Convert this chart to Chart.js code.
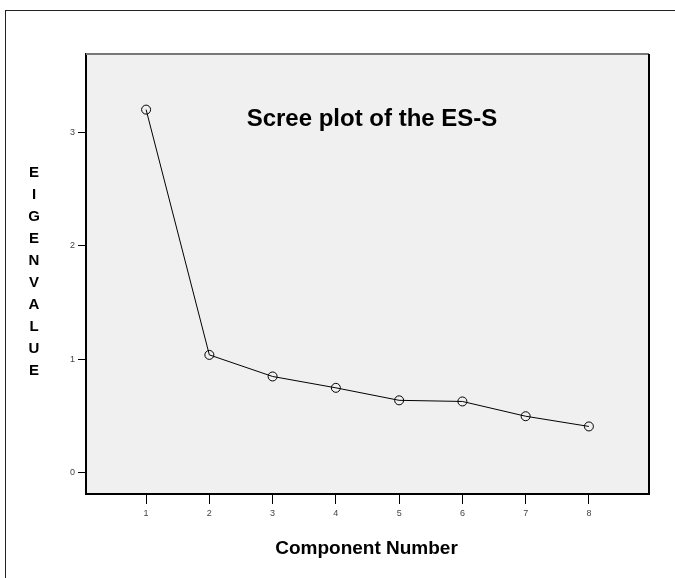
<!DOCTYPE html>
<html>
<head>
<meta charset="utf-8">
<script src="https://cdn.jsdelivr.net/npm/chart.js@4.4.0/dist/chart.umd.min.js"></script>
<style>
  html, body { margin: 0; padding: 0; background: #fff; }
  #wrap { width: 675px; height: 578px; }
</style>
</head>
<body>
<div id="wrap"><canvas id="scree" width="675" height="578"></canvas></div>
<script>
// component numbers and their eigenvalues
const components = [1, 2, 3, 4, 5, 6, 7, 8];
const eigenvalues = [3.2, 1.04, 0.85, 0.75, 0.64, 0.63, 0.5, 0.41];
const xTicks = [1, 2, 3, 4, 5, 6, 7, 8];
const yTicks = [0, 1, 2, 3];

const titleText = "Scree plot of the ES-S";
const yLabel = "EIGENVALUE";
const xLabel = "Component Number";

const decorations = {
  id: "decorations",
  beforeDraw(chart) {
    const c = chart.ctx;
    const a = chart.chartArea;
    c.save();
    // outer frame
    c.strokeStyle = "#222";
    c.lineWidth = 1;
    c.strokeRect(5.5, 10.5, 700, 600);
    // grey plot background
    c.fillStyle = "#f0f0f0";
    c.fillRect(a.left, a.top, a.right - a.left, a.bottom - a.top);
    c.restore();
  },
  afterDraw(chart) {
    const c = chart.ctx;
    const a = chart.chartArea;
    c.save();
    // top and right edges of the plot box
    c.lineWidth = 2;
    c.strokeStyle = "#777";
    c.beginPath();
    c.moveTo(a.left, a.top);
    c.lineTo(a.right, a.top);
    c.stroke();
    c.strokeStyle = "#000";
    c.beginPath();
    c.moveTo(a.right, a.top);
    c.lineTo(a.right, a.bottom);
    c.stroke();

    c.fillStyle = "#000";
    c.textAlign = "center";
    c.textBaseline = "middle";
    // title inside the plot
    c.font = "bold 24px 'Liberation Sans', Arial, sans-serif";
    c.fillText(titleText, a.left + (a.right - a.left) * 0.508, a.top + 65);
    // stacked y label
    c.font = "bold 15px 'Liberation Sans', Arial, sans-serif";
    for (let i = 0; i < yLabel.length; i++) {
      c.fillText(yLabel[i], 34, 173 + i * 22);
    }
    // x label
    c.font = "bold 19px 'Liberation Sans', Arial, sans-serif";
    c.fillText(xLabel, (a.left + a.right) / 2 - 1, 549);
    c.restore();
  },
};

const ctx = document.getElementById("scree").getContext("2d");

let screeChart = new Chart(ctx, {
  type: "line",
  data: {
    datasets: [
      {
        label: "Eigenvalue",
        data: components.map((x, i) => ({ x: x, y: eigenvalues[i] })),
        borderColor: "#000",
        borderWidth: 1,
        tension: 0,
        pointStyle: "circle",
        pointRadius: 4.5,
        pointBorderWidth: 1,
        pointBorderColor: "#000",
        pointBackgroundColor: "rgba(0,0,0,0)",
      },
    ],
  },
  options: {
    responsive: false,
    animation: false,
    layout: {
      padding: { left: 0, top: 54, right: 26, bottom: 0 },
    },
    plugins: {
      legend: { display: false },
      title: { display: false },
      tooltip: { enabled: false },
    },
    scales: {
      x: {
        type: "linear",
        min: 0.05,
        max: 8.95,
        afterBuildTicks: (s) => {
          s.ticks = xTicks.map((v) => ({ value: v }));
        },
        afterFit: (s) => {
          s.height = 84;
        },
        border: { display: true, color: "#000", width: 2 },
        grid: {
          display: true,
          drawOnChartArea: false,
          drawTicks: true,
          tickLength: 10,
          color: "#000",
        },
        ticks: {
          color: "#444",
          padding: 4,
          maxRotation: 0,
          font: { size: 9, family: "'Liberation Sans', Arial, sans-serif" },
        },
      },
      y: {
        type: "linear",
        min: -0.185,
        max: 3.69,
        afterBuildTicks: (s) => {
          s.ticks = yTicks.map((v) => ({ value: v }));
        },
        afterFit: (s) => {
          s.width = 86;
        },
        border: { display: true, color: "#000", width: 2 },
        grid: {
          display: true,
          drawOnChartArea: false,
          drawTicks: true,
          tickLength: 8,
          color: "#000",
        },
        ticks: {
          color: "#444",
          padding: 3,
          font: { size: 9, family: "'Liberation Sans', Arial, sans-serif" },
        },
      },
    },
  },
  plugins: [decorations],
});
</script>
</body>
</html>
